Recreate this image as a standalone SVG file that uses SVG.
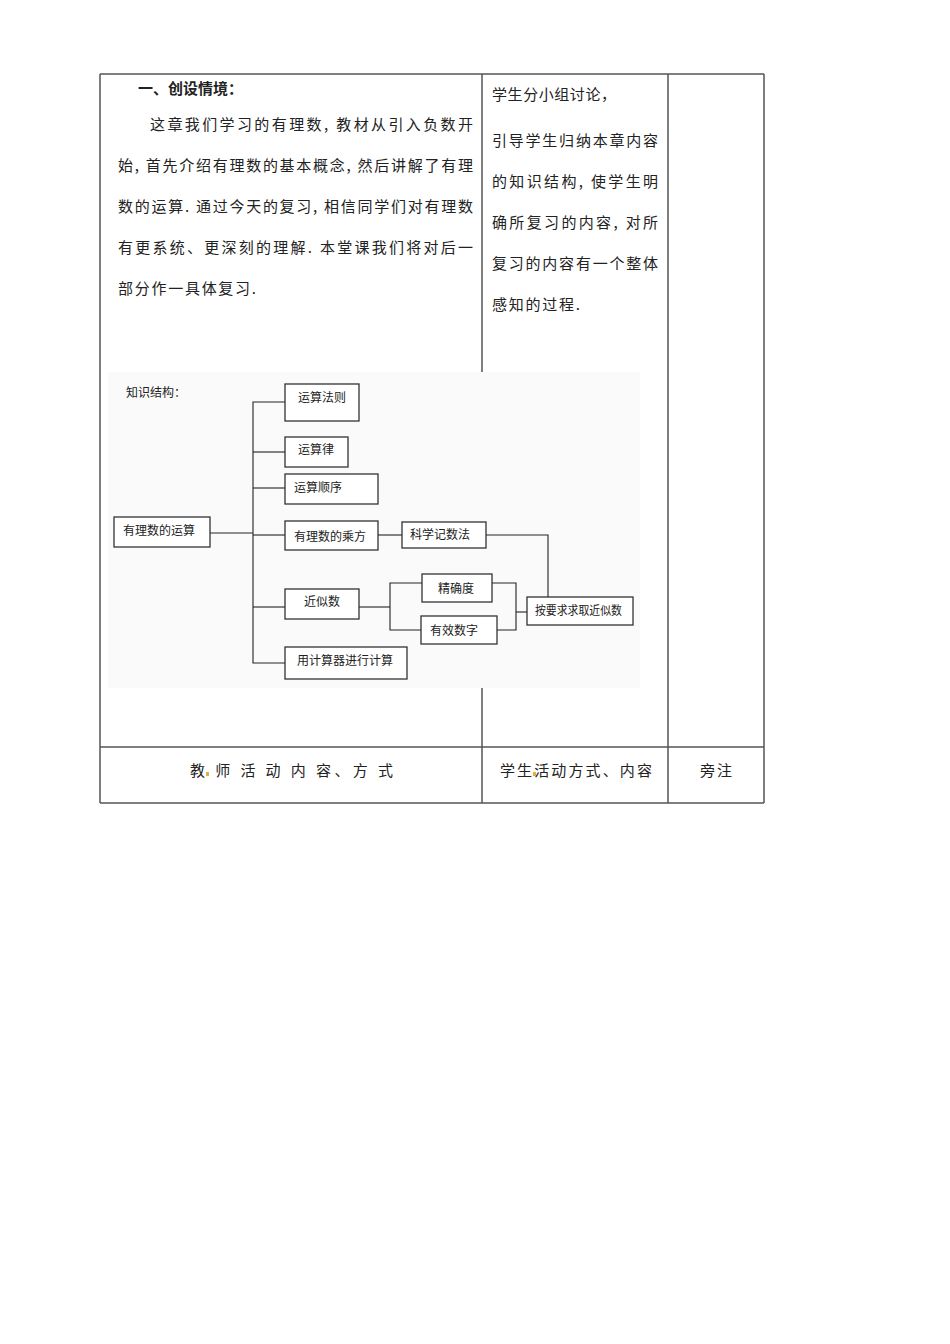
<svg xmlns="http://www.w3.org/2000/svg" width="950" height="1344" viewBox="0 0 950 1344">
<style>
.t{font-family:"Noto Sans CJK SC","Noto Sans",sans-serif;fill:#222;font-size:15px}
.d{font-family:"Noto Sans CJK SC","Noto Sans",sans-serif;fill:#222;font-size:12px;text-anchor:middle}
.b{fill:#fff;stroke:#333;stroke-width:1.3}
.c{fill:none;stroke:#222;stroke-width:1.1}
.tb{stroke:#555;stroke-width:1.5;fill:none}
</style>
<rect width="950" height="1344" fill="#fff"/>
<g id="table">
<line class="tb" x1="100" y1="74" x2="764" y2="74"/>
<line class="tb" x1="100" y1="74" x2="100" y2="803"/>
<line class="tb" x1="764" y1="74" x2="764" y2="803"/>
<line class="tb" x1="668" y1="74" x2="668" y2="803"/>
<line class="tb" x1="482" y1="74" x2="482" y2="372"/>
<line class="tb" x1="482" y1="688" x2="482" y2="803"/>
<line class="tb" x1="100" y1="747" x2="764" y2="747"/>
<line class="tb" x1="100" y1="803" x2="764" y2="803"/>
</g>
<g id="intro">
<text class="t" x="138" y="94" font-weight="bold">一、创设情境：</text>
<text class="t" x="150" y="130" textLength="323" lengthAdjust="spacing">这章我们学习的有理数, 教材从引入负数开</text>
<text class="t" x="118" y="171" textLength="355" lengthAdjust="spacing">始, 首先介绍有理数的基本概念, 然后讲解了有理</text>
<text class="t" x="118" y="212" textLength="355" lengthAdjust="spacing">数的运算. 通过今天的复习, 相信同学们对有理数</text>
<text class="t" x="118" y="253" textLength="355" lengthAdjust="spacing">有更系统、更深刻的理解. 本堂课我们将对后一</text>
<text class="t" x="118" y="294" textLength="138" lengthAdjust="spacing">部分作一具体复习.</text>
</g>
<g id="student">
<text class="t" x="492" y="100" textLength="124" lengthAdjust="spacing">学生分小组讨论，</text>
<text class="t" x="492" y="146" textLength="166" lengthAdjust="spacing">引导学生归纳本章内容</text>
<text class="t" x="492" y="187" textLength="166" lengthAdjust="spacing">的知识结构, 使学生明</text>
<text class="t" x="492" y="228" textLength="166" lengthAdjust="spacing">确所复习的内容, 对所</text>
<text class="t" x="492" y="269" textLength="166" lengthAdjust="spacing">复习的内容有一个整体</text>
<text class="t" x="492" y="310" textLength="88" lengthAdjust="spacing">感知的过程.</text>
</g>
<g id="diagram">
<rect x="108" y="372" width="532" height="316" fill="#fafafa"/>
<text class="d" x="126" y="397" style="text-anchor:start">知识结构：</text>
</g>
<g id="connectors">
<polyline class="c" points="285,402 253,402 253,663 285,663"/>
<line class="c" x1="253" y1="452" x2="285" y2="452"/>
<line class="c" x1="253" y1="488" x2="285" y2="488"/>
<line class="c" x1="210" y1="533" x2="253" y2="533"/>
<line class="c" x1="253" y1="535" x2="285" y2="535"/>
<line class="c" x1="253" y1="607" x2="285" y2="607"/>
<line class="c" x1="378" y1="535" x2="402" y2="535"/>
<polyline class="c" points="486,535 548,535 548,597"/>
<line class="c" x1="359" y1="607" x2="390" y2="607"/>
<polyline class="c" points="422,583 390,583 390,630 421,630"/>
<polyline class="c" points="492,583 516,583 516,630 497,630"/>
<line class="c" x1="516" y1="612" x2="527" y2="612"/>
</g>
<g id="n1"><rect class="b" x="285" y="384" width="74" height="37"/><text class="d" x="322" y="402">运算法则</text></g>
<g id="n2"><rect class="b" x="285" y="437" width="63" height="30"/><text class="d" x="316" y="454">运算律</text></g>
<g id="n3"><rect class="b" x="285" y="474" width="93" height="30"/><text class="d" x="318" y="492">运算顺序</text></g>
<g id="n4"><rect class="b" x="114" y="517" width="96" height="30"/><text class="d" x="159" y="535">有理数的运算</text></g>
<g id="n5"><rect class="b" x="285" y="521" width="93" height="29"/><text class="d" x="330" y="541">有理数的乘方</text></g>
<g id="n6"><rect class="b" x="402" y="522" width="84" height="26"/><text class="d" x="440" y="539">科学记数法</text></g>
<g id="n7"><rect class="b" x="285" y="589" width="74" height="30"/><text class="d" x="322" y="606">近似数</text></g>
<g id="n8"><rect class="b" x="422" y="574" width="70" height="28"/><text class="d" x="456" y="593">精确度</text></g>
<g id="n9"><rect class="b" x="421" y="616" width="76" height="28"/><text class="d" x="454" y="635">有效数字</text></g>
<g id="n10"><rect class="b" x="527" y="597" width="106" height="28"/><text class="d" x="535" y="615" style="text-anchor:start" textLength="87" lengthAdjust="spacingAndGlyphs">按要求求取近似数</text></g>
<g id="n11"><rect class="b" x="285" y="647" width="122" height="32"/><text class="d" x="345" y="665">用计算器进行计算</text></g>
<g id="footer">
<text class="t" x="190" y="776" textLength="203" lengthAdjust="spacing">教 师 活 动 内 容、方 式</text>
<rect x="206" y="772" width="3" height="4" fill="#e0b040"/>
<text class="t" x="500" y="776" textLength="152" lengthAdjust="spacing">学生活动方式、内容</text>
<rect x="533" y="772" width="3" height="4" fill="#e0b040"/>
<text class="t" x="700" y="776" textLength="32" lengthAdjust="spacing">旁注</text>
</g>
</svg>
